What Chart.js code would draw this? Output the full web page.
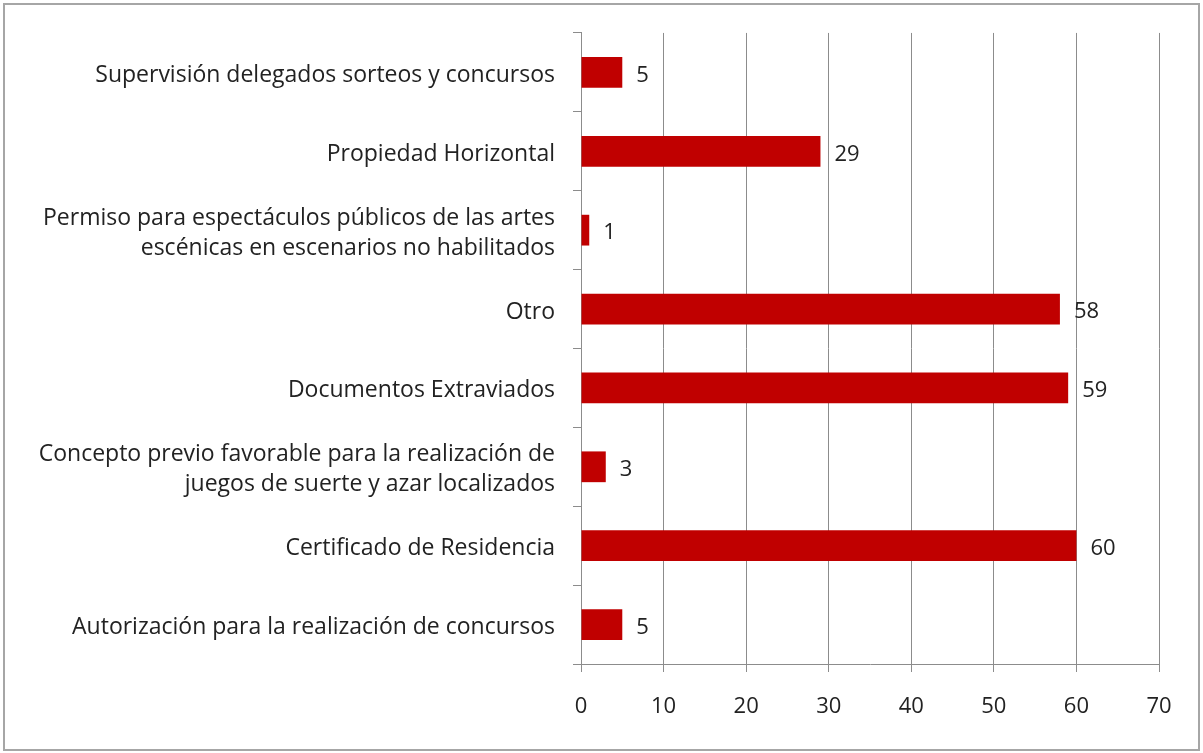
<!DOCTYPE html>
<html>
<head>
<meta charset="utf-8">
<script src="https://cdn.jsdelivr.net/npm/chart.js@4.4.1/dist/chart.umd.min.js"></script>
<style>
  html, body { margin: 0; padding: 0; background: #fff; }
  #wrap { position: relative; width: 1203px; height: 753px; }
</style>
</head>
<body>
<div id="wrap"><canvas id="c" width="1203" height="753"></canvas></div>
<script>
// datos del gráfico (de arriba hacia abajo)
const categorias = [
  'Supervisión delegados sorteos y concursos',
  'Propiedad Horizontal',
  ['Permiso para espectáculos públicos de las artes', 'escénicas en escenarios no habilitados'],
  'Otro',
  'Documentos Extraviados',
  ['Concepto previo favorable para la realización de', 'juegos de suerte y azar localizados'],
  'Certificado de Residencia',
  'Autorización para la realización de concursos'
];
const valores = [5, 29, 1, 58, 59, 3, 60, 5];
const ejeX = [0, 10, 20, 30, 40, 50, 60, 70];

const FONT = '"Open Sans"';
const TEXTO = '#222';
const GRIS = '#8c8c8c';

// marco exterior + etiquetas de valor
const marco = {
  id: 'marco',
  beforeDraw(chart) {
    const ctx = chart.ctx;
    ctx.save();
    ctx.fillStyle = '#fff';
    ctx.fillRect(0, 0, chart.width, chart.height);
    ctx.strokeStyle = '#a6a6a6';
    ctx.lineWidth = 2;
    ctx.strokeRect(4, 4, chart.width - 8, chart.height - 7);
    ctx.restore();
  },
  afterDatasetsDraw(chart) {
    const ctx = chart.ctx;
    const meta = chart.getDatasetMeta(0);
    ctx.save();
    ctx.font = '22px ' + FONT;
    ctx.fillStyle = TEXTO;
    ctx.textBaseline = 'middle';
    ctx.textAlign = 'left';
    meta.data.forEach((bar, i) => {
      ctx.fillText(String(valores[i]), bar.x + 14, bar.y + 3);
    });
    ctx.restore();
  }
};

new Chart(document.getElementById('c').getContext('2d'), {
  type: 'bar',
  data: {
    labels: categorias,
    datasets: [{
      data: valores,
      backgroundColor: '#c00000',
      borderWidth: 0,
      categoryPercentage: 1,
      barPercentage: 0.39
    }]
  },
  options: {
    indexAxis: 'y',
    responsive: false,
    animation: false,
    layout: { padding: { top: 32, right: 44, left: 0, bottom: 0 } },
    plugins: { legend: { display: false }, tooltip: { enabled: false } },
    scales: {
      x: {
        min: 0,
        max: 70,
        afterBuildTicks(axis) { axis.ticks = ejeX.map(v => ({ value: v })); },
        afterFit(axis) { axis.height = 89; },
        grid: { color: GRIS, tickLength: 8, lineWidth: 1 },
        border: { color: GRIS, width: 1 },
        ticks: { color: TEXTO, font: { family: FONT, size: 22 }, padding: 22 }
      },
      y: {
        afterFit(axis) { axis.width = 581; },
        grid: { offset: true, drawOnChartArea: false, color: GRIS, tickLength: 8 },
        border: { color: GRIS, width: 1 },
        ticks: { color: TEXTO, font: { family: FONT, size: 23, lineHeight: 1.3 }, padding: 18, labelOffset: 3 }
      }
    }
  },
  plugins: [marco]
});
</script>
</body>
</html>
